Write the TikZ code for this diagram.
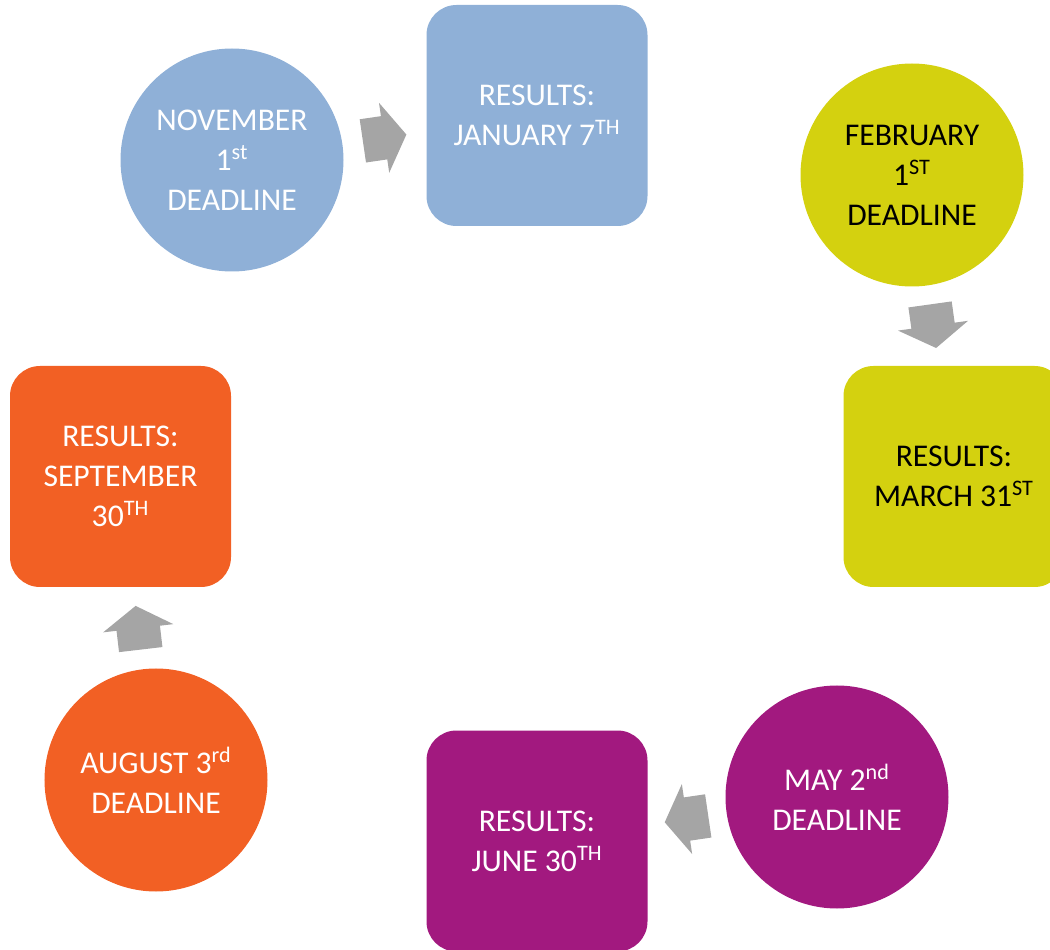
\documentclass[tikz,border=0pt]{standalone}
\usepackage{fontspec}
\setmainfont{Carlito}
\usetikzlibrary{shapes.arrows}
\definecolor{novblue}{HTML}{8FB0D7}
\definecolor{febgreen}{HTML}{D4D10F}
\definecolor{maypurple}{HTML}{A2197F}
\definecolor{augorange}{HTML}{F26024}
\definecolor{arrgray}{HTML}{A5A5A5}
\begin{document}
\begin{tikzpicture}[
  deadline/.style={shape=circle, minimum size=4.46cm, inner sep=0pt, align=center,
    font=\fontsize{18}{22.8}\selectfont},
  results/.style={shape=rectangle, rounded corners=0.6cm, minimum size=4.42cm, inner sep=0pt,
    align=center, font=\fontsize{18}{22.8}\selectfont},
  arr/.style={single arrow, fill=arrgray, inner xsep=0pt, inner ysep=0.43cm, minimum height=0.88cm,
    single arrow head extend=0.27cm, single arrow tip angle=115,
    sloped, allow upside down, pos=0.42}
]
\useasboundingbox (0,0) rectangle (21,-19);
\clip (0,0) rectangle (21,-19);
\node[deadline, fill=novblue, text=white] (nov) at (4.64,-3.2) {NOVEMBER\\1\textsuperscript{st}\\DEADLINE};
\node[results, fill=novblue, text=white] (jan) at (10.74,-2.31) {RESULTS:\\JANUARY 7\textsuperscript{TH}};
\node[deadline, fill=febgreen, text=black] (feb) at (18.24,-3.5) {FEBRUARY\\1\textsuperscript{ST}\\DEADLINE};
\node[results, fill=febgreen, text=black] (mar) at (19.08,-9.53) {RESULTS:\\MARCH 31\textsuperscript{ST}};
\node[deadline, fill=maypurple, text=white] (may) at (16.74,-15.94) {MAY 2\textsuperscript{nd}\\DEADLINE};
\node[results, fill=maypurple, text=white] (jun) at (10.74,-16.82) {RESULTS:\\JUNE 30\textsuperscript{TH}};
\node[deadline, fill=augorange, text=white] (aug) at (3.12,-15.6) {AUGUST 3\textsuperscript{rd}\\DEADLINE};
\node[results, fill=augorange, text=white] (sep) at (2.41,-9.53) {RESULTS:\\SEPTEMBER\\30\textsuperscript{TH}};
\path (nov) -- node[arr] (a1) {} (jan);
\path (feb) -- node[arr] (a2) {} (mar);
\path (may) -- node[arr] (a3) {} (jun);
\path (aug) -- node[arr] (a4) {} (sep);
\end{tikzpicture}
\end{document}
